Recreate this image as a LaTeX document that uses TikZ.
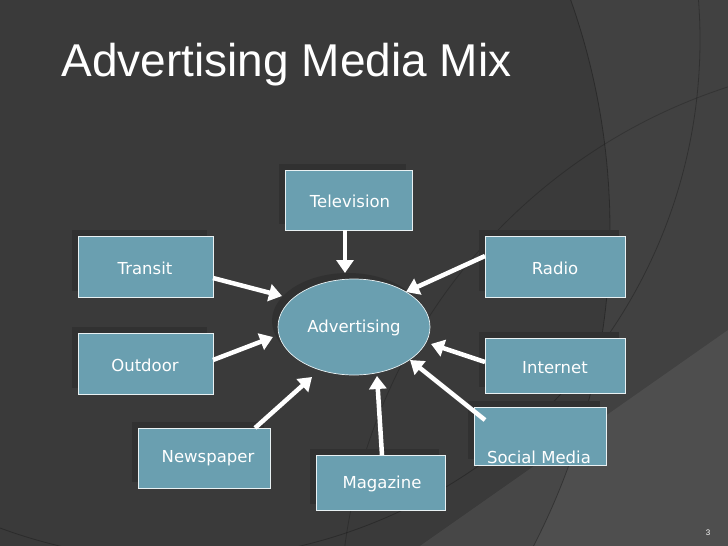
\documentclass[tikz,border=0pt]{standalone}
\usepackage{fontspec}
\setmainfont{Liberation Sans}
\newfontfamily\bodyf{DejaVu Sans}
\usetikzlibrary{arrows.meta,shapes.geometric}
\definecolor{bg}{HTML}{3A3A3A}
\definecolor{boxc}{HTML}{6A9FB0}
\definecolor{shad}{HTML}{313131}
\tikzset{
 mbox/.style={draw=white!85!boxc,line width=0.7pt,fill=boxc,minimum width=#1,minimum height=58pt,inner sep=0pt},
 mtext/.style={text=white,font=\bodyf\fontsize{16.5}{18}\selectfont},
 arr/.style={draw=white,line width=4.5pt,-{Triangle[length=13pt,width=17pt]}},
}
\begin{document}
\begin{tikzpicture}[x=1pt,y=-1pt]
\path[use as bounding box,fill=bg] (0,0) rectangle (728,546);
\begin{scope}
\clip (0,0) rectangle (728,546);
\fill[white,opacity=0.04,even odd rule] (0,0) rectangle (728,546) (-80,230) circle (690);
\fill[white,opacity=0.07] (728,330) -- (420,546) -- (728,546) -- cycle;
\draw[black,opacity=0.3,line width=0.8pt] (-80,230) circle (690);
\draw[black,opacity=0.25,line width=0.8pt] (180,40) circle (520);
\draw[black,opacity=0.2,line width=0.8pt] (900,620) circle (560);
\end{scope}
\node[anchor=base west,text=white,font=\fontsize{46}{50}\selectfont] (title) at (58,76) {Advertising Media Mix};
% shadows
\foreach \a/\b/\c/\d in {279/164/406/224, 72/230/207/291, 479/230/619/291, 72/327/207/388, 479/332/619/387, 132/422/264/482, 310/449/439/504, 468/401/600/459}
  \fill[shad] (\a,\b) rectangle (\c,\d);
\fill[shad] (348,321) ellipse (76 and 48);
\node[mbox=127pt,minimum height=60pt] (tv) at (348.5,200) {};
\node[mbox=135pt,minimum height=61pt] (tr) at (145.5,266.5) {};
\node[mbox=140pt,minimum height=61pt] (ra) at (555,266.5) {};
\node[mbox=135pt,minimum height=61pt] (od) at (145.5,363.5) {};
\node[mbox=140pt,minimum height=55pt] (in) at (555,365.5) {};
\node[mbox=132pt,minimum height=60pt] (np) at (204,458) {};
\node[mbox=129pt,minimum height=55pt] (mg) at (380.5,482.5) {};
\node[mbox=132pt,minimum height=58pt] (sm) at (540,436) {};
\node[ellipse,draw=white!85!boxc,line width=0.7pt,fill=boxc,minimum width=152pt,minimum height=96pt,inner sep=0pt] (ad) at (354,327) {};
\node[mtext] (tvt) at (350,201) {Television};
\node[mtext] (trt) at (145,268) {Transit};
\node[mtext] (rat) at (555,268) {Radio};
\node[mtext] (adt) at (354,328) {Advertising};
\node[mtext] (odt) at (145,365) {Outdoor};
\node[mtext] (int) at (555,368) {Internet};
\node[mtext] (npt) at (208,458) {Newspaper};
\node[mtext] (mgt) at (382,484) {Magazine};
\node[mtext] (smt) at (539,457) {Social Media};
\node[text=white!80,font=\fontsize{8}{9}\selectfont] (pg) at (708,533) {3};
\coordinate (tvs) at (345,230); \coordinate (tve) at (345,273);
\coordinate (trs) at (213,278); \coordinate (tre) at (282,296);
\coordinate (ods) at (213,360); \coordinate (ode) at (273,337);
\coordinate (nps) at (255,428); \coordinate (npe) at (312,377);
\coordinate (mgs) at (382,455); \coordinate (mge) at (377,376);
\coordinate (sms) at (485,420); \coordinate (sme) at (410,360);
\coordinate (ins) at (485,362); \coordinate (ine) at (431,344);
\coordinate (ras) at (485,256); \coordinate (rae) at (406,292);
\foreach \s in {tv,tr,od,np,mg,sm,in,ra} \draw[arr] (\s s) -- (\s e);
\end{tikzpicture}
\end{document}
